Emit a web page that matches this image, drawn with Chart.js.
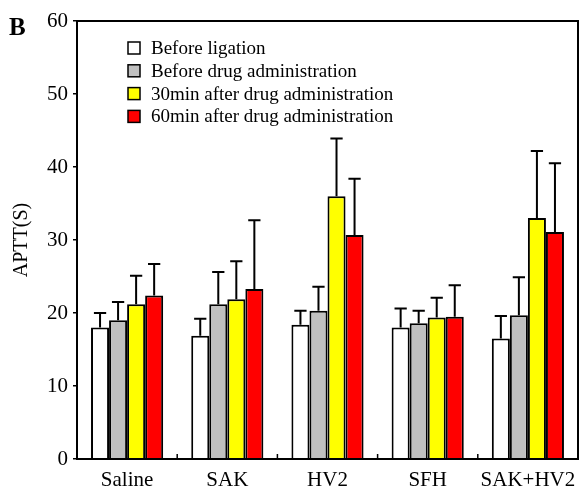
<!DOCTYPE html>
<html>
<head>
<meta charset="utf-8">
<script src="https://cdn.jsdelivr.net/npm/chart.js@4"></script>
<style>
  html, body { margin: 0; padding: 0; background: #fff; }
  #wrap { width: 588px; height: 486px; }
</style>
</head>
<body>
<div id="wrap"><canvas id="chart-canvas"></canvas></div>
<script>
// groups and measurements (APTT in seconds, mean and upper SD)
const groups = ['Saline', 'SAK', 'HV2', 'SFH', 'SAK+HV2'];
const seriesNames = ['Before ligation', 'Before drug administration', '30min after drug administration', '60min after drug administration'];
const seriesColors = ['#ffffff', '#c0c0c0', '#ffff00', '#ff0000'];

const beforeLigation = [18.0, 16.9, 18.4, 18.0, 16.5];
const beforeDrug = [19.0, 21.2, 20.3, 18.6, 19.7];
const after30min = [21.2, 21.9, 36.0, 19.4, 33.0];
const after60min = [22.4, 23.3, 30.7, 19.5, 31.1];

const sdBeforeLigation = [2.0, 2.3, 1.9, 2.6, 3.1];
const sdBeforeDrug = [2.5, 4.4, 3.3, 1.7, 5.2];
const sdAfter30min = [3.9, 5.2, 7.9, 2.7, 9.2];
const sdAfter60min = [4.3, 9.4, 7.7, 4.3, 9.4];

const yTicks = [0, 10, 20, 30, 40, 50, 60];

const FONT = 'Liberation Serif, Times New Roman, serif';

const allValues = [beforeLigation, beforeDrug, after30min, after60min];
const allSd = [sdBeforeLigation, sdBeforeDrug, sdAfter30min, sdAfter60min];

const datasets = seriesNames.map((name, i) => ({
  label: name,
  data: allValues[i],
  sd: allSd[i],
  backgroundColor: seriesColors[i],
  borderColor: '#000',
  borderWidth: 2,
  borderSkipped: 'bottom',
  barPercentage: 1.0,
  categoryPercentage: 0.72,
}));

// upper error bars
const errorBars = {
  id: 'errorBars',
  afterDatasetsDraw(chart) {
    const ctx = chart.ctx;
    const y = chart.scales.y;
    ctx.save();
    ctx.strokeStyle = '#000';
    ctx.lineWidth = 2;
    chart.data.datasets.forEach((ds, i) => {
      const meta = chart.getDatasetMeta(i);
      meta.data.forEach((bar, j) => {
        const top = y.getPixelForValue(ds.data[j] + ds.sd[j]);
        const base = y.getPixelForValue(ds.data[j]);
        const half = bar.width * 0.34;
        ctx.beginPath();
        ctx.moveTo(bar.x, base);
        ctx.lineTo(bar.x, top);
        ctx.moveTo(bar.x - half, top);
        ctx.lineTo(bar.x + half, top);
        ctx.stroke();
      });
    });
    ctx.restore();
  }
};

// frame, inward category ticks, legend inside plot, panel letter
const decorations = {
  id: 'decorations',
  afterDraw(chart) {
    const ctx = chart.ctx;
    const a = chart.chartArea;
    const x = chart.scales.x;
    ctx.save();
    ctx.strokeStyle = '#000';
    ctx.lineWidth = 2;
    ctx.strokeRect(a.left, a.top, a.right - a.left, a.bottom - a.top);

    // small ticks between groups
    ctx.lineWidth = 1.5;
    for (let i = 1; i < groups.length; i++) {
      const px = (x.getPixelForValue(i - 1) + x.getPixelForValue(i)) / 2;
      ctx.beginPath();
      ctx.moveTo(px, a.bottom);
      ctx.lineTo(px, a.bottom - 5);
      ctx.stroke();
    }

    // legend
    ctx.font = '19px ' + FONT;
    ctx.textBaseline = 'middle';
    ctx.textAlign = 'left';
    chart.data.datasets.forEach((ds, i) => {
      const cy = a.top + 27 + i * 22.8;
      const bx = a.left + 51;
      ctx.fillStyle = ds.backgroundColor;
      ctx.fillRect(bx, cy - 6, 12, 12);
      ctx.lineWidth = 1.5;
      ctx.strokeRect(bx, cy - 6, 12, 12);
      ctx.fillStyle = '#000';
      ctx.fillText(ds.label, a.left + 74, cy + 1);
    });

    ctx.font = 'bold 25px ' + FONT;
    ctx.textBaseline = 'alphabetic';
    ctx.fillText('B', 9, 35);
    ctx.restore();
  }
};

new Chart(document.getElementById('chart-canvas'), {
  type: 'bar',
  data: { labels: groups, datasets: datasets },
  options: {
    responsive: true,
    maintainAspectRatio: false,
    animation: false,
    layout: { padding: { top: 21, right: 10, left: 0, bottom: 0 } },
    plugins: {
      legend: { display: false },
      tooltip: { enabled: false },
    },
    scales: {
      x: {
        grid: { display: false },
        border: { display: true, color: '#000', width: 2 },
        ticks: { color: '#000', padding: 1, maxRotation: 0, minRotation: 0, autoSkip: false, font: { family: FONT, size: 21 } },
        afterFit(s) { s.height = 27; },
      },
      y: {
        min: 0,
        max: 60,
        afterBuildTicks(s) { s.ticks = yTicks.map(v => ({ value: v })); },
        grid: { drawOnChartArea: false, drawTicks: true, tickLength: 4, color: '#000', lineWidth: 1.5 },
        border: { display: true, color: '#000', width: 2 },
        ticks: { color: '#000', padding: 5, font: { family: FONT, size: 21 } },
        title: { display: true, text: 'APTT(S)', color: '#000', padding: { top: 10, bottom: 0 }, font: { family: FONT, size: 20 } },
        afterFit(s) { s.width = 77; },
      },
    },
  },
  plugins: [errorBars, decorations],
});
</script>
</body>
</html>
